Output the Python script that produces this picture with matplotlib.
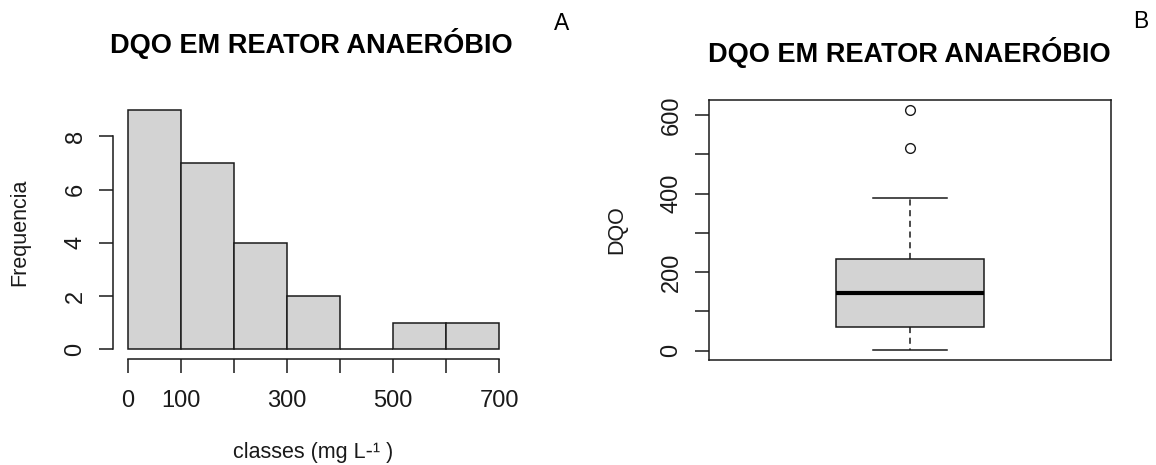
import numpy as np
import matplotlib
matplotlib.use('Agg')
import matplotlib.pyplot as plt

# Histogram of DQO by class (mg/L)
bin_edges = [0, 100, 200, 300, 400, 500, 600, 700]
counts = [9, 7, 4, 2, 0, 1, 1]
x_tick_labels = ['0', '100', '', '300', '', '500', '', '700']
y_ticks_hist = [0, 2, 4, 6, 8]

# Boxplot summary of DQO
q1, median, q3 = 61, 146, 234
whisker_low, whisker_high = 1, 389
outliers = [517, 614]
y_ticks_box = [0, 100, 200, 300, 400, 500, 600]
y_tick_labels_box = ['0', '', '200', '', '400', '', '600']

TITLE = 'DQO EM REATOR ANAERÓBIO'
FILL = '#d3d3d3'
INK = '#1a1a1a'

plt.rcParams['font.family'] = ['Liberation Sans', 'DejaVu Sans']

W, H = 1156, 465
fig = plt.figure(figsize=(W / 100, H / 100), dpi=100)


def px_axes(x0, y0, x1, y1):
    # axes from pixel box (top-left origin)
    return fig.add_axes([x0 / W, 1 - y1 / H, (x1 - x0) / W, (y1 - y0) / H])


def r_range(lo, hi):
    pad = 0.04 * (hi - lo)
    return lo - pad, hi + pad


# ---- A: histogram ----
ax1 = px_axes(113, 100, 514, 359)
widths = np.diff(bin_edges)
ax1.bar(bin_edges[:-1], counts, width=widths, align='edge',
        color=FILL, edgecolor=INK, linewidth=1.1)
ax1.set_xlim(*r_range(bin_edges[0], bin_edges[-1]))
ax1.set_ylim(*r_range(0, max(counts)))

for side in ['top', 'right']:
    ax1.spines[side].set_visible(False)
ax1.spines['left'].set_bounds(y_ticks_hist[0], y_ticks_hist[-1])
ax1.spines['bottom'].set_bounds(bin_edges[0], bin_edges[-1])
for sp in ax1.spines.values():
    sp.set_linewidth(1.1)
    sp.set_color(INK)

ax1.set_xticks(bin_edges)
ax1.set_xticklabels(x_tick_labels)
ax1.set_yticks(y_ticks_hist)
ax1.set_yticklabels([str(v) for v in y_ticks_hist], rotation=90, va='center')
ax1.tick_params(axis='both', length=10, width=1.1, color=INK,
                labelsize=17, labelcolor=INK)
ax1.tick_params(axis='x', pad=12)
ax1.tick_params(axis='y', pad=9)

fig.text(311 / W, 1 - 43 / H, TITLE, ha='center', va='center',
         fontsize=19.5, fontweight='bold', color='black')
fig.text(20 / W, 1 - 232 / H, 'Frequencia', ha='center', va='center',
         rotation=90, fontsize=15.5, color=INK)
fig.text(313 / W, 1 - 452 / H, 'classes (mg L-¹ )', ha='center', va='center',
         fontsize=15.5, color=INK)
fig.text(562 / W, 1 - 24 / H, 'A', ha='center', va='center',
         fontsize=16.5, color='black')

# ---- B: boxplot ----
ax2 = px_axes(709, 100, 1111, 360)
stats = [{
    'med': median, 'q1': q1, 'q3': q3,
    'whislo': whisker_low, 'whishi': whisker_high,
    'fliers': outliers,
}]
ax2.bxp(stats, positions=[1], widths=0.4, patch_artist=True,
        boxprops=dict(facecolor=FILL, edgecolor=INK, linewidth=1.1),
        medianprops=dict(color='black', linewidth=3),
        whiskerprops=dict(color=INK, linewidth=1.1, linestyle=(0, (4, 3))),
        capprops=dict(color=INK, linewidth=1.1),
        capwidths=0.2,
        flierprops=dict(marker='o', markersize=7, markerfacecolor='none',
                        markeredgecolor=INK, markeredgewidth=1.0))
ax2.set_xlim(*r_range(0.5, 1.5))
ax2.set_ylim(*r_range(min(whisker_low, min(outliers)),
                      max(whisker_high, max(outliers))))
ax2.set_xticks([])
ax2.set_yticks(y_ticks_box)
ax2.set_yticklabels(y_tick_labels_box, rotation=90, va='center')
ax2.tick_params(axis='y', length=10, width=1.1, color=INK,
                labelsize=17, labelcolor=INK, pad=9)
for sp in ax2.spines.values():
    sp.set_linewidth(1.1)
    sp.set_color(INK)

fig.text(909 / W, 1 - 53 / H, TITLE, ha='center', va='center',
         fontsize=19.5, fontweight='bold', color='black')
fig.text(617 / W, 1 - 230 / H, 'DQO', ha='center', va='center',
         rotation=90, fontsize=15.5, color=INK)
fig.text(1141 / W, 1 - 22 / H, 'B', ha='center', va='center',
         fontsize=16.5, color='black')

fig.savefig('out.png', dpi=100, facecolor='white')
